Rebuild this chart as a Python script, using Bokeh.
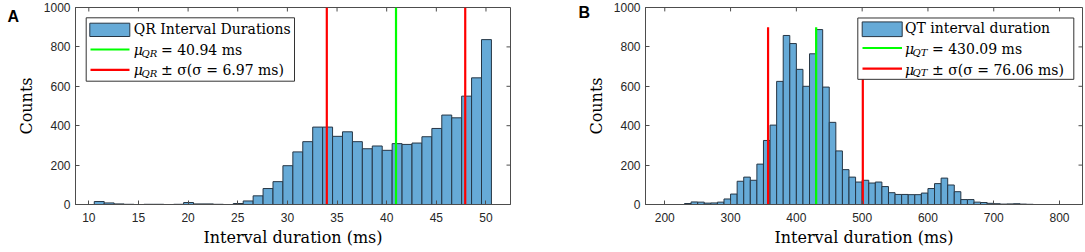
from bokeh.plotting import figure
from bokeh.models import Range1d, FixedTicker, BoxAnnotation, Label, Arrow, ColumnDataSource
from bokeh.layouts import row
from bokeh.embed import file_html
from bokeh.resources import INLINE

# ---------------- data ----------------
qr_bin_start = 10.55
qr_bin_width = 1.0
qr_counts = [15, 8, 3, 1, 0, 1, 1, 0, 1, 10,
             3, 3, 1, 0, 5, 18, 44, 81, 116, 197,
             267, 319, 393, 393, 346, 369, 319, 283, 297, 275,
             309, 305, 312, 344, 386, 454, 440, 550, 643, 837]
qr_mean = 40.94
qr_sigma = 6.97
qr_line_top = 1000

qt_bin_start = 230
qt_bin_width = 10
qt_counts = [5, 13, 12, 7, 8, 12, 28, 53, 118, 139,
             123, 205, 325, 403, 625, 858, 817, 686, 600, 765,
             888, 596, 417, 272, 177, 139, 114, 123, 109, 114,
             91, 60, 51, 51, 50, 50, 58, 81, 106, 134,
             99, 65, 25, 25, 12, 10, 6, 4, 2, 3,
             4, 2, 1]
qt_mean = 430.09
qt_sigma = 76.06
qt_lower = 357.0
qt_upper = 501.0
qt_line_top = 900

qr_xticks = [10, 15, 20, 25, 30, 35, 40, 45, 50]
qt_xticks = [200, 300, 400, 500, 600, 700, 800]
y_ticks = [0, 200, 400, 600, 800, 1000]
qr_xrange = (8.66, 52.47)
qt_xrange = (170.7, 834.9)
y_range = (0, 1000)

legend_qr = ["QR Interval Durations", "QR", " = 40.94 ms", " \u00b1 \u03c3(\u03c3 = 6.97 ms)"]
legend_qt = ["QT interval duration", "QT", " = 430.09 ms", " \u00b1 \u03c3(\u03c3 = 76.06 ms)"]
panel_letters = ["A", "B"]

# ---------------- style ----------------
AX = "#4d4d4d"
TICK_FONT = "Liberation Sans"
SERIF = "DejaVu Serif"
BAR_FILL = "#66aad7"
BAR_LINE = "#263645"
GREEN = "#00ff00"
RED = "#ff0000"
TICK_LEN = 4


def style_axis(ax, ticks):
    ax.ticker = FixedTicker(ticks=ticks)
    ax.axis_line_color = AX
    ax.major_tick_line_color = AX
    ax.major_tick_in = TICK_LEN
    ax.major_tick_out = 0
    ax.minor_tick_in = 0
    ax.minor_tick_out = 0
    ax.major_label_text_font = TICK_FONT
    ax.major_label_text_color = "#262626"
    ax.major_label_text_font_size = "12px"


def make_fig(width, height, bl, br, bt, bb, xr, xticks, fh):
    p = figure(width=width, height=height, x_range=Range1d(*xr), y_range=Range1d(*y_range),
               output_backend="svg", toolbar_location=None,
               min_border_left=bl, min_border_right=br, min_border_top=bt, min_border_bottom=bb)
    p.xgrid.visible = False
    p.ygrid.visible = False
    p.outline_line_color = AX
    p.background_fill_color = "white"
    p.border_fill_color = "white"
    style_axis(p.xaxis[0], xticks)
    style_axis(p.yaxis[0], y_ticks)
    p.xaxis[0].major_label_standoff = 8
    p.yaxis[0].major_label_standoff = 5
    p.xaxis[0].axis_label = "Interval duration (ms)"
    p.yaxis[0].axis_label = "Counts"
    for ax in (p.xaxis[0], p.yaxis[0]):
        ax.axis_label_text_font = SERIF
        ax.axis_label_text_font_size = "16px"
        ax.axis_label_text_font_style = "normal"
        ax.axis_label_text_color = "black"
    p.xaxis[0].axis_label_standoff = 3
    p.yaxis[0].axis_label_standoff = 5
    # box ticks on the top and right edges (MATLAB "box on" style)
    fw = width - bl - br
    dy = TICK_LEN / fh * (y_range[1] - y_range[0])
    dx = TICK_LEN / fw * (xr[1] - xr[0])
    p.segment(x0=xticks, y0=[y_range[1]] * len(xticks), x1=xticks,
              y1=[y_range[1] - dy] * len(xticks), line_color=AX, line_width=1)
    p.segment(x0=[xr[1]] * len(y_ticks), y0=y_ticks, x1=[xr[1] - dx] * len(y_ticks),
              y1=y_ticks, line_color=AX, line_width=1)
    return p


def add_hist(p, start, width, counts):
    left = [start + i * width for i in range(len(counts))]
    right = [start + (i + 1) * width for i in range(len(counts))]
    src = ColumnDataSource(dict(left=left, right=right, top=counts, bottom=[0] * len(counts)))
    p.quad(left="left", right="right", top="top", bottom="bottom", source=src,
           fill_color=BAR_FILL, line_color=BAR_LINE, line_width=1)


def add_vlines(p, xs, top, color):
    p.segment(x0=xs, y0=[0] * len(xs), x1=xs, y1=[top] * len(xs), line_color=color, line_width=2.2)


def add_legend(p, frame, xr, spec, texts):
    fx, fy, fw, fh = frame
    X = lambda px: xr[0] + (px - fx) / fw * (xr[1] - xr[0])
    Y = lambda py: y_range[1] - (py - fy) / fh * (y_range[1] - y_range[0])
    bx0, by0, bx1, by1 = spec["box"]
    p.add_layout(BoxAnnotation(left=X(bx0), right=X(bx1), top=Y(by0), bottom=Y(by1),
                               fill_color="white", fill_alpha=1.0, line_color="#333333",
                               line_width=1, line_alpha=1.0))
    sx0, sy0, sx1, sy1 = spec["swatch"]
    p.add_layout(BoxAnnotation(left=X(sx0), right=X(sx1), top=Y(sy0), bottom=Y(sy1),
                               fill_color=BAR_FILL, fill_alpha=1.0, line_color=BAR_LINE,
                               line_width=1, line_alpha=1.0))
    lx0, lx1 = spec["line_x"]
    for ly, col in zip(spec["line_y"], (GREEN, RED)):
        p.add_layout(Arrow(end=None, x_start=X(lx0), x_end=X(lx1), y_start=Y(ly), y_end=Y(ly),
                           line_color=col, line_width=2.2))
    r1, r2, r3 = spec["rows"]
    tx = spec["text_x"]
    common = dict(text_font=SERIF, text_color="black", text_baseline="middle", text_align="left")
    p.add_layout(Label(x=X(tx), y=Y(r1), text=texts[0], text_font_size="14px", **common))
    for ry, rest in ((r2, texts[2]), (r3, texts[3])):
        p.add_layout(Label(x=X(tx), y=Y(ry), text="\u03bc", text_font_size="14px",
                           text_font_style="italic", **common))
        p.add_layout(Label(x=X(spec["sub_x"]), y=Y(ry + 3.5), text=texts[1], text_font_size="10px",
                           text_font_style="italic", **common))
        p.add_layout(Label(x=X(spec["rest_x"]), y=Y(ry), text=rest, text_font_size="14px", **common))


def add_panel_letter(p, letter, sx, sy):
    # placed in the left border panel, screen units
    p.add_layout(Label(x=sx, y=sy, x_units="screen", y_units="screen", text=letter,
                       text_font="Liberation Sans", text_font_style="bold",
                       text_font_size="16px", text_color="black",
                       text_baseline="top", text_align="left"), "left")


# ---------------- left panel ----------------
# canvas x 0..520, frame x 75..510, y 7..204
p1 = make_fig(520, 252, 75, 10, 7, 48, qr_xrange, qr_xticks, 197)
add_hist(p1, qr_bin_start, qr_bin_width, qr_counts)
add_vlines(p1, [qr_mean - qr_sigma, qr_mean + qr_sigma], qr_line_top, RED)
add_vlines(p1, [qr_mean], qr_line_top, GREEN)
frame1 = (75, 7, 435, 197)
add_legend(p1, frame1, qr_xrange, dict(
    box=(85.7, 17.3, 294, 80.7), swatch=(89.3, 22.7, 129.3, 36), line_x=(90, 129),
    line_y=(49, 69.3), rows=(28.3, 49, 69.3), text_x=133.3, sub_x=141, rest_x=160.5), legend_qr)
add_panel_letter(p1, panel_letters[0], 6, 197)

# ---------------- right panel ----------------
# canvas x 520..1085, frame x 645..1082, y 6..207
p2 = make_fig(565, 252, 125, 3, 6, 45, qt_xrange, qt_xticks, 201)
add_hist(p2, qt_bin_start, qt_bin_width, qt_counts)
add_vlines(p2, [qt_lower, qt_upper], qt_line_top, RED)
add_vlines(p2, [qt_mean], qt_line_top, GREEN)
frame2 = (645, 6, 437, 201)
add_legend(p2, frame2, qt_xrange, dict(
    box=(857.3, 16.7, 1073.3, 79.3), swatch=(861.7, 20.7, 901.7, 35.7), line_x=(862, 901.5),
    line_y=(47.3, 68.3), rows=(26.7, 48.3, 69.3), text_x=904.5, sub_x=912, rest_x=931.5), legend_qt)
add_panel_letter(p2, panel_letters[1], 7, 201)

layout = row(p1, p2)
open("out.html", "w").write(file_html(layout, INLINE))
